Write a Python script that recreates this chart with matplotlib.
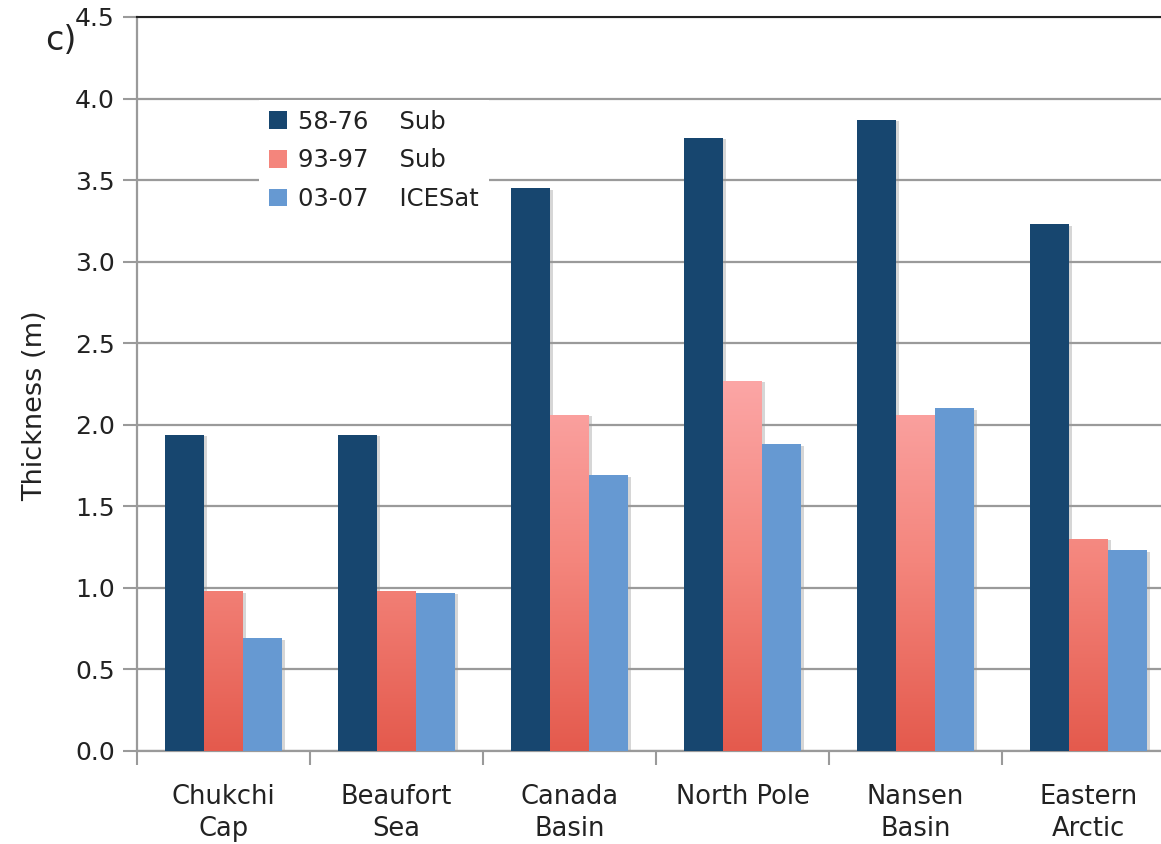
import matplotlib
matplotlib.use("Agg")
import matplotlib.pyplot as plt
import numpy as np
from matplotlib.colors import LinearSegmentedColormap
import matplotlib.patheffects as pe

categories = ["Chukchi\nCap", "Beaufort\nSea", "Canada\nBasin", "North Pole", "Nansen\nBasin", "Eastern\nArctic"]
sub_58_76 = [1.94, 1.94, 3.45, 3.76, 3.87, 3.23]
sub_93_97 = [0.98, 0.98, 2.06, 2.27, 2.06, 1.30]
icesat_03_07 = [0.69, 0.97, 1.69, 1.88, 2.10, 1.23]
legend_labels = ["58-76    Sub", "93-97    Sub", "03-07    ICESat"]
yticks = [0.0, 0.5, 1.0, 1.5, 2.0, 2.5, 3.0, 3.5, 4.0, 4.5]

plt.rcParams['font.family'] = ['DejaVu Sans']
fig = plt.figure(figsize=(11.61, 8.44), dpi=100)
ax = fig.add_axes([137/1161, 93/844, 1038/1161, 734/844])

x = np.arange(len(categories))
w = 0.225
dark = "#17466f"
blue = "#6699d2"
shadow = [pe.SimplePatchShadow(offset=(2, -1), shadow_rgbFace="#999999", alpha=0.4), pe.Normal()]

b1 = ax.bar(x - w, sub_58_76, w, color=dark, zorder=3, path_effects=shadow, label=legend_labels[0])
b2 = ax.bar(x, sub_93_97, w, color="#f4857c", zorder=3, path_effects=shadow, label=legend_labels[1])
b3 = ax.bar(x + w, icesat_03_07, w, color=blue, zorder=3, path_effects=shadow, label=legend_labels[2])

cmap = LinearSegmentedColormap.from_list("pinkgrad", ["#e45a4d", "#f4857c", "#fca7a7"])
grad = np.linspace(0, 1, 256).reshape(-1, 1)
for r in b2:
    x0, ww = r.get_x(), r.get_width()
    im = ax.imshow(grad, cmap=cmap, origin="lower", aspect="auto",
                   extent=[x0, x0 + ww, 0, 2.3], zorder=3.5)
    im.set_clip_path(r)

ax.set_xlim(-0.5, len(categories) - 0.5)
ax.set_ylim(0, 4.5)
ax.set_yticks(yticks)
ax.set_yticklabels([f"{v:.1f}" for v in yticks])
ax.yaxis.grid(True, color="#9a9a9a", lw=1.6, zorder=0)
ax.set_axisbelow(True)

ax.set_xticks(x)
ax.set_xticklabels(categories, fontsize=18.5, color="#222222", linespacing=1.3)
ax.set_xticks(np.arange(len(categories) + 1) - 0.5, minor=True)
ax.tick_params(axis="x", which="major", length=0, pad=24)
ax.tick_params(axis="x", which="minor", length=10, width=1.5, color="#9a9a9a")
ax.tick_params(axis="y", length=10, width=1.5, color="#9a9a9a", labelsize=18, labelcolor="#222222", pad=6)

for s in ["left", "bottom"]:
    ax.spines[s].set_color("#9a9a9a")
    ax.spines[s].set_linewidth(1.6)
ax.spines["top"].set_color("#222222")
ax.spines["top"].set_linewidth(1.5)
ax.spines["right"].set_visible(False)

ax.set_ylabel("Thickness (m)", fontsize=19.5, color="#222222")
ax.yaxis.set_label_coords(-0.0857, 0.471)

leg = ax.legend(loc="upper left", bbox_to_anchor=(110/1038, 663/734), frameon=True,
                fancybox=False, edgecolor="none", facecolor="white", framealpha=1,
                fontsize=17.5, handlelength=0.75, handleheight=0.75, handletextpad=0.45,
                labelspacing=0.6, borderpad=0.4)
for h in leg.legend_handles:
    h.set_path_effects([])
leg.set_zorder(2.5)
for t in leg.get_texts():
    t.set_color("#222222")

fig.text(45/1161, 1 - 41/844, "c)", fontsize=24, color="#222222", va="center", ha="left")

fig.savefig("out.png", dpi=100)
